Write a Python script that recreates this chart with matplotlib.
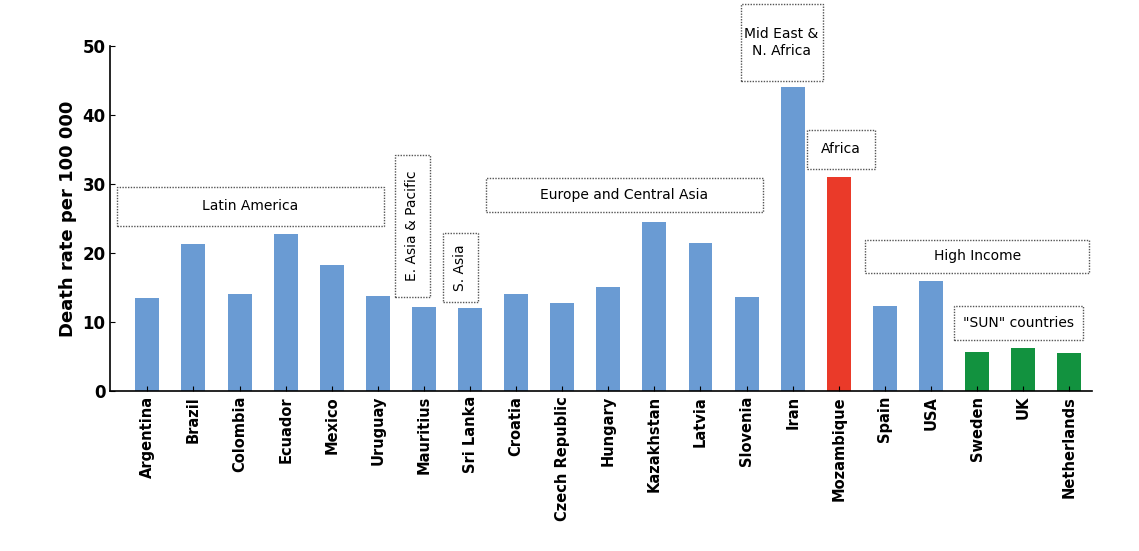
import matplotlib
matplotlib.use("Agg")
import matplotlib.pyplot as plt
from matplotlib.patches import Rectangle

countries = ["Argentina","Brazil","Colombia","Ecuador","Mexico","Uruguay","Mauritius","Sri Lanka",
             "Croatia","Czech Republic","Hungary","Kazakhstan","Latvia","Slovenia","Iran","Mozambique",
             "Spain","USA","Sweden","UK","Netherlands"]
values = [13.5,21.3,14.1,22.7,18.2,13.8,12.2,12.1,14.0,12.8,15.1,24.5,21.5,13.7,44.0,31.0,12.3,15.9,5.7,6.3,5.5]
blue, red, green = "#6a9bd3", "#ea3a29", "#12923f"
colors = [blue]*15 + [red] + [blue]*2 + [green]*3

fig = plt.figure(figsize=(11.39,5.51), dpi=100)
ax = fig.add_axes([0.097,0.29,0.862,0.627])
x = range(len(countries))
ax.bar(x, values, width=0.52, color=colors)
ax.set_xlim(-0.8,20.5); ax.set_ylim(0,50)
ax.set_xticks(list(x)); ax.set_xticklabels(countries, rotation=90, fontsize=10.5, fontweight="bold")
ax.set_yticks([0,10,20,30,40,50]); ax.tick_params(axis="y", labelsize=12, direction="in")
ax.tick_params(axis="x", direction="in")
for lab in ax.get_yticklabels(): lab.set_fontweight("bold")
ax.set_ylabel("Death rate per 100 000", fontsize=13, fontweight="bold")
ax.spines["top"].set_visible(False); ax.spines["right"].set_visible(False)
ax.spines["left"].set_linewidth(1.2); ax.spines["bottom"].set_linewidth(1.2)

boxes = [
    ("Latin America", -0.65, 5.13, 23.9, 29.6, 0),
    ("E. Asia & Pacific", 5.37, 6.13, 13.6, 34.2, 90),
    ("S. Asia", 6.41, 7.17, 12.9, 22.9, 90),
    ("Europe and Central Asia", 7.35, 13.35, 25.9, 30.9, 0),
    ("Mid East &\nN. Africa", 12.87, 14.65, 44.9, 56.0, 0),
    ("Africa", 14.3, 15.78, 32.2, 37.8, 0),
    ("High Income", 15.57, 20.43, 17.1, 21.9, 0),
    ('"SUN" countries', 17.5, 20.3, 7.4, 12.3, 0),
]
for txt, x0, x1, y0, y1, rot in boxes:
    r = Rectangle((x0,y0), x1-x0, y1-y0, fill=True, facecolor="white", edgecolor="#555555",
                  linestyle=(0,(1,1)), linewidth=1, clip_on=False, zorder=3)
    ax.add_patch(r)
    ax.text((x0+x1)/2, (y0+y1)/2, txt, ha="center", va="center", rotation=rot, fontsize=10,
            zorder=4, clip_on=False, linespacing=1.3)
fig.savefig("out.png", dpi=100)
